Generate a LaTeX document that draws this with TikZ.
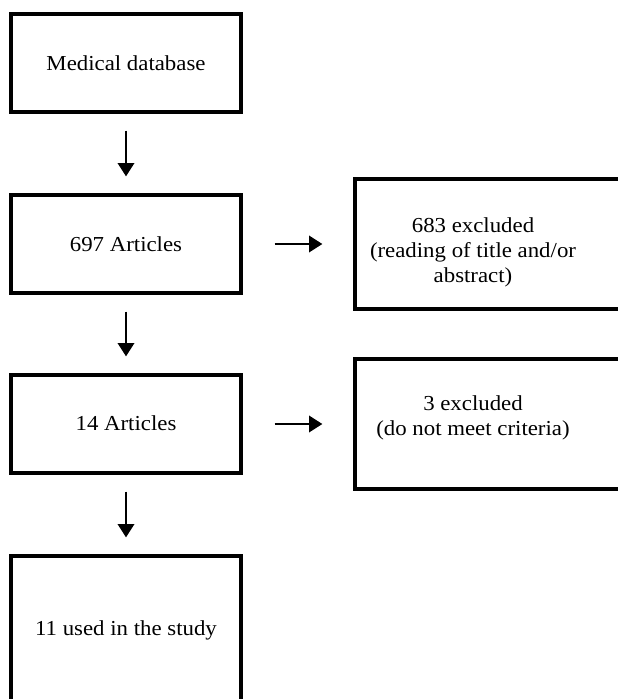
\documentclass[tikz,border=0pt]{standalone}
\usepackage{fontspec}
\setmainfont{Liberation Serif}[FakeStretch=1.07]
\usetikzlibrary{arrows.meta}
\tikzset{
  box/.style={draw, line width=2.5pt, rectangle, inner sep=0pt},
  txt/.style={align=center, font=\fontsize{16}{18.75}\selectfont, inner sep=0pt},
  arr/.style={line width=1.1pt, -{Triangle[width=12.5pt,length=10pt]}},
}
\begin{document}
\begin{tikzpicture}[x=0.75pt,y=-0.75pt]
\useasboundingbox (0,0) rectangle (617,699);
% left column
\node[box, minimum width=230*0.75pt, minimum height=98*0.75pt] (b1) at (126,63) {};
\node[txt] (t1) at (126,63) {Medical database};
\node[box, minimum width=230*0.75pt, minimum height=98*0.75pt] (b2) at (126,244) {};
\node[txt] (t2) at (126,244) {697 Articles};
\node[box, minimum width=230*0.75pt, minimum height=98*0.75pt] (b3) at (126,424) {};
\node[txt] (t3) at (126,423) {14 Articles};
\node[box, minimum width=230*0.75pt, minimum height=150*0.75pt] (b4) at (126,631) {};
\node[txt] (t4) at (126,630) {11 used in the study};
% right column
\node[box, minimum width=300*0.75pt, minimum height=130*0.75pt] (r1) at (505,244) {};
\node[txt] (rt1) at (473,252) {683 excluded\\(reading of title and/or\\abstract)};
\node[box, minimum width=300*0.75pt, minimum height=130*0.75pt] (r2) at (505,424) {};
\node[txt] (rt2) at (473,418) {3 excluded\\(do not meet criteria)};
% arrows
\draw[arr, shorten <=17*0.75pt, shorten >=17*0.75pt] (b1.south) -- (b2.north);
\draw[arr, shorten <=17*0.75pt, shorten >=17*0.75pt] (b2.south) -- (b3.north);
\draw[arr, shorten <=17*0.75pt, shorten >=17*0.75pt] (b3.south) -- (b4.north);
\draw[arr, shorten <=32*0.75pt, shorten >=31*0.75pt] (b2.east) -- (b2.east -| r1.west);
\draw[arr, shorten <=32*0.75pt, shorten >=31*0.75pt] (b3.east) -- (b3.east -| r2.west);
\end{tikzpicture}
\end{document}
